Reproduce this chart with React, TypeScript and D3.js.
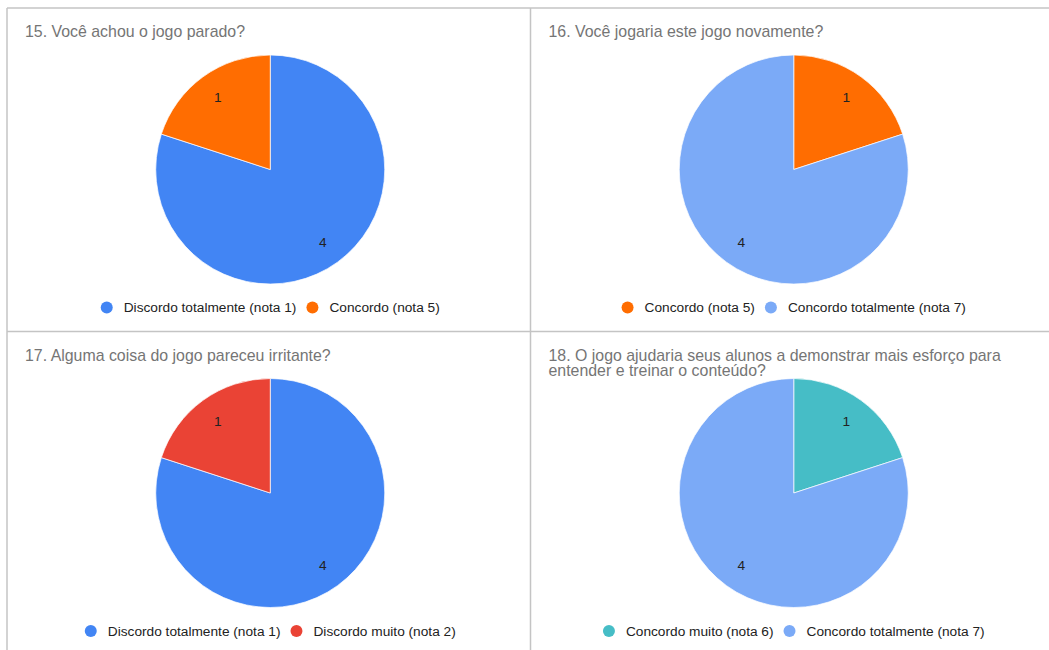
import React from "react";
import * as d3 from "d3";

const titles = [
  ["15. Você achou o jogo parado?"],
  ["16. Você jogaria este jogo novamente?"],
  ["17. Alguma coisa do jogo pareceu irritante?"],
  ["18. O jogo ajudaria seus alunos a demonstrar mais esforço para", "entender e treinar o conteúdo?"],
];
const categories = [
  ["Discordo totalmente (nota 1)", "Concordo (nota 5)"],
  ["Concordo (nota 5)", "Concordo totalmente (nota 7)"],
  ["Discordo totalmente (nota 1)", "Discordo muito (nota 2)"],
  ["Concordo muito (nota 6)", "Concordo totalmente (nota 7)"],
];
const values = [
  [4, 1],
  [1, 4],
  [4, 1],
  [1, 4],
];
const colors = [
  ["#4285f4", "#ff6d01"],
  ["#ff6d01", "#7baaf7"],
  ["#4285f4", "#ea4335"],
  ["#46bdc6", "#7baaf7"],
];

const W = 1049;
const H = 650;
const FONT = "Arial, 'Liberation Sans', sans-serif";
const LEG_FS = 13.7;

let ctx: CanvasRenderingContext2D | null = null;
function measure(s: string, fs: number): number {
  if (!ctx && typeof document !== "undefined") {
    ctx = document.createElement("canvas").getContext("2d");
  }
  if (!ctx) return s.length * fs * 0.5;
  ctx.font = `${fs}px Arial, 'Liberation Sans', sans-serif`;
  return ctx.measureText(s).width;
}

function Panel({ idx, x0, y0, w }: { idx: number; x0: number; y0: number; w: number }) {
  const r = 114.5;
  const cx = x0 + w / 2 + 1.5;
  const cy = y0 + 161.5;
  const pie = d3.pie<number>().sort(null).value((d) => d)(values[idx]);
  const arc = d3.arc<d3.PieArcDatum<number>>().innerRadius(0).outerRadius(r);
  const labelArc = d3.arc<d3.PieArcDatum<number>>().innerRadius(r * 0.78).outerRadius(r * 0.78);
  const cats = categories[idx];
  const itemW = cats.map((c) => 23 + measure(c, LEG_FS));
  const gap = 10;
  const total = itemW.reduce((a, b) => a + b, 0) + gap;
  let lx = cx - total / 2;
  const ly = y0 + 299.5;
  return (
    <g>
      {titles[idx].map((t, i) => (
        <text key={i} x={x0 + 18} y={y0 + 29 + i * 15.5} fontSize={15.9} fill="#757575" fontFamily={FONT}>
          {t}
        </text>
      ))}
      <g transform={`translate(${cx},${cy})`}>
        {pie.map((p, i) => (
          <path key={i} d={arc(p) || ""} fill={colors[idx][i]} stroke="#fff" strokeWidth={0.7} />
        ))}
        {pie.map((p, i) => {
          const [tx, ty] = labelArc.centroid(p);
          return (
            <text key={i} x={tx} y={ty} dy="0.35em" textAnchor="middle" fontSize={13.7} fill="#222" fontFamily={FONT}>
              {values[idx][i]}
            </text>
          );
        })}
      </g>
      {cats.map((c, i) => {
        const x = lx;
        lx += itemW[i] + gap;
        return (
          <g key={i}>
            <circle cx={x + 6} cy={ly} r={6} fill={colors[idx][i]} />
            <text x={x + 23} y={ly} dy="0.35em" fontSize={LEG_FS} fill="#222" fontFamily={FONT}>
              {c}
            </text>
          </g>
        );
      })}
    </g>
  );
}

export default function App() {
  const left = 7;
  const mid = 530.5;
  const top = 8;
  const hmid = 331.5;
  return (
    <svg width={W} height={H} style={{ position: "absolute", left: 0, top: 0, background: "#fff" }}>
      <rect x={0} y={0} width={W} height={H} fill="#fff" />
      <Panel idx={0} x0={left} y0={top} w={mid - left} />
      <Panel idx={1} x0={mid} y0={top} w={mid - left} />
      <Panel idx={2} x0={left} y0={hmid} w={mid - left} />
      <Panel idx={3} x0={mid} y0={hmid} w={mid - left} />
      <line x1={left} x2={W} y1={top} y2={top} stroke="#c4c4c4" strokeWidth={1.5} />
      <line x1={left} x2={W} y1={hmid} y2={hmid} stroke="#c4c4c4" strokeWidth={1.5} />
      <line x1={left} x2={left} y1={top} y2={H} stroke="#c4c4c4" strokeWidth={1.5} />
      <line x1={mid} x2={mid} y1={top} y2={H} stroke="#c4c4c4" strokeWidth={1.5} />
    </svg>
  );
}
